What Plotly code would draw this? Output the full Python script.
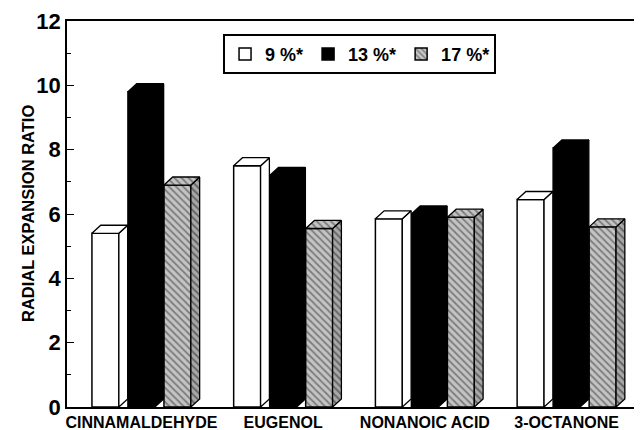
import plotly.graph_objects as go

# ---- data ----
categories = ["CINNAMALDEHYDE", "EUGENOL", "NONANOIC ACID", "3-OCTANONE"]
series_names = ["9 %*", "13 %*", "17 %*"]
values_9 = [5.4, 7.5, 5.85, 6.45]
values_13 = [9.8, 7.2, 6.0, 8.05]
values_17 = [6.9, 5.55, 5.9, 5.6]
y_tick_vals = [0, 2, 4, 6, 8, 10, 12]

# ---- style ----
FONT = "Liberation Sans, Arial, sans-serif"
bar_w = 0.19        # front-face width (category units)
slot = 0.254        # distance between bar centres in a group
dx, dy = 0.062, 0.25  # 3-D depth offset (x in category units, y in value units)

gray_pattern = dict(shape="\\", fgcolor="#333333", bgcolor="#c4c4c4", size=5, solidity=0.35)
gray_pattern_side = dict(shape="\\", fgcolor="#222222", bgcolor="#a8a8a8", size=5, solidity=0.4)

styles = [
    dict(color="white", pattern=None, side=None, top=None),
    dict(color="black", pattern=None, side=None, top=None),
    dict(color="#c4c4c4", pattern=gray_pattern, side=gray_pattern_side, top=gray_pattern),
]
all_values = [values_9, values_13, values_17]

fig = go.Figure()
for k, (name, vals, st) in enumerate(zip(series_names, all_values, styles)):
    offs = (k - 1) * slot
    xs = [i + offs for i in range(len(categories))]
    marker = dict(color=st["color"], line=dict(color="black", width=1.5))
    if st["pattern"]:
        marker["pattern"] = st["pattern"]
    fig.add_trace(go.Bar(x=xs, y=vals, width=bar_w, name=name, marker=marker,
                         hoverinfo="skip"))
    # side faces & top faces (3-D look) computed from the data
    sx, sy, tx, ty = [], [], [], []
    for x, v in zip(xs, vals):
        r = x + bar_w / 2
        l = x - bar_w / 2
        sx += [r, r + dx, r + dx, r, r, None]
        sy += [0, dy, v + dy, v, 0, None]
        tx += [l, l + dx, r + dx, r, l, None]
        ty += [v, v + dy, v + dy, v, v, None]
    for px_, py_, patt in ((sx, sy, st["side"]), (tx, ty, st["top"])):
        kw = dict(x=px_, y=py_, mode="lines", fill="toself",
                  line=dict(color="black", width=1.3), showlegend=False,
                  hoverinfo="skip")
        if patt:
            kw["fillpattern"] = patt
            kw["fillcolor"] = patt["bgcolor"]
        else:
            kw["fillcolor"] = st["color"]
        fig.add_trace(go.Scatter(**kw))

fig.update_layout(
    width=634, height=422,
    margin=dict(l=59, r=1, t=13, b=23, autoexpand=False),
    paper_bgcolor="white", plot_bgcolor="white",
    barmode="overlay",
    font=dict(family=FONT, color="black", size=16, weight="bold"),
    legend=dict(orientation="h", x=0.51, xanchor="center", y=0.966, yanchor="top",
                bgcolor="white", bordercolor="black", borderwidth=1.8,
                font=dict(size=18, family=FONT, weight="bold"),
                traceorder="normal"),
    showlegend=True,
    annotations=[dict(text="RADIAL EXPANSION RATIO", textangle=-90,
                      x=0, xref="paper", xanchor="center", xshift=-39,
                      y=0.5, yref="paper", yanchor="middle", showarrow=False,
                      font=dict(size=16.5, family=FONT, weight="bold"))],
)
fig.update_xaxes(
    range=[-0.525, 3.525], tickmode="array", tickvals=list(range(len(categories))),
    ticktext=categories, showline=True, linecolor="black", linewidth=1.5, mirror=True,
    ticks="", showgrid=False, zeroline=False, automargin=False,
    tickfont=dict(size=16, family=FONT, weight="bold"),
)
fig.update_yaxes(
    range=[0, 12], tickmode="array", tickvals=y_tick_vals,
    showline=True, linecolor="black", linewidth=1.5, mirror=False,
    ticks="inside", ticklen=7, tickwidth=1, tickcolor="black",
    minor=dict(dtick=1, ticks="inside", ticklen=4, tickwidth=1, tickcolor="black"),
    showgrid=False, zeroline=False, automargin=False,
    tickfont=dict(size=22, family=FONT, weight="bold"),
)

fig.write_html("out.html")
